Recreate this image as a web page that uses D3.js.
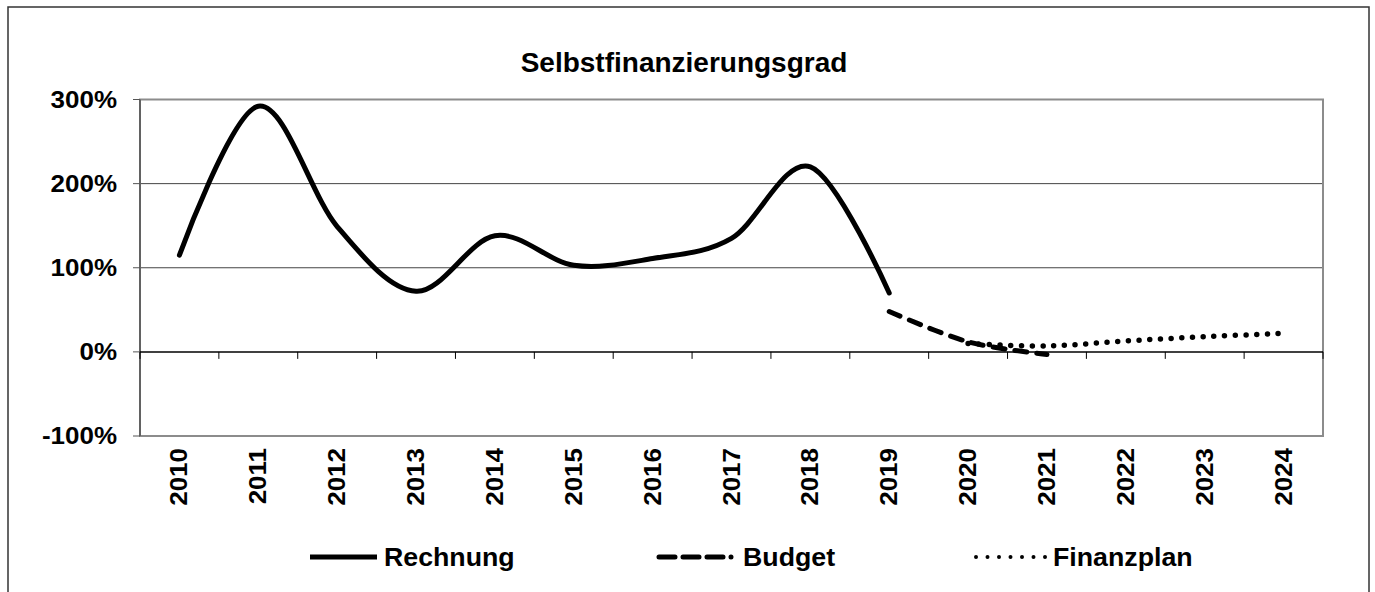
<!DOCTYPE html>
<html>
<head>
<meta charset="utf-8">
<script src="https://cdn.jsdelivr.net/npm/d3@7"></script>
<style>
  body { margin: 0; background: #fff; }
  text { font-family: "Liberation Sans", Arial, sans-serif; font-weight: bold; fill: #000; }
</style>
</head>
<body>
<div id="chart"></div>
<script>
var years = ["2010", "2011", "2012", "2013", "2014", "2015", "2016", "2017", "2018", "2019", "2020", "2021", "2022", "2023", "2024"];
var yTicks = [-1, 0, 1, 2, 3];

// values as fractions (1 = 100%)
var rechnungYears = ["2010", "2011", "2012", "2013", "2014", "2015", "2016", "2017", "2018", "2019"];
var rechnung = [1.15, 2.92, 1.49, 0.72, 1.38, 1.03, 1.11, 1.35, 2.20, 0.70];
var budgetYears = ["2019", "2020", "2021"];
var budget = [0.48, 0.12, -0.03];
var finanzplanYears = ["2020", "2021", "2022", "2023", "2024"];
var finanzplan = [0.10, 0.07, 0.13, 0.18, 0.22];

var W = 1375, H = 592;
var plot = { left: 140, right: 1323, top: 99.5, bottom: 436 };
var stretch = 1.13; // axis labels in the original are a bit wider than Arial

var svg = d3.select("#chart").append("svg")
  .attr("width", W)
  .attr("height", H);

// outer frame
svg.append("rect")
  .attr("x", 8).attr("y", 7)
  .attr("width", 1361).attr("height", 620)
  .attr("fill", "none")
  .attr("stroke", "#333")
  .attr("stroke-width", 1.5);

var x = d3.scaleBand()
  .domain(years)
  .range([plot.left, plot.right])
  .paddingInner(0).paddingOuter(0);

var y = d3.scaleLinear()
  .domain([-1, 3])
  .range([plot.bottom, plot.top]);

function cx(d) { return x(d) + x.bandwidth() / 2; }

// title
svg.append("text")
  .attr("text-anchor", "middle")
  .attr("font-size", 28)
  .attr("x", 684)
  .attr("y", 72)
  .text("Selbstfinanzierungsgrad");

// gridlines
svg.append("g").selectAll("line")
  .data(yTicks.filter(function(d) { return d > 0 && d < 3; }))
  .enter().append("line")
  .attr("x1", plot.left).attr("x2", plot.right)
  .attr("y1", function(d) { return y(d); })
  .attr("y2", function(d) { return y(d); })
  .attr("stroke", "#444")
  .attr("stroke-width", 1);

// plot border
svg.append("rect")
  .attr("x", plot.left).attr("y", plot.top)
  .attr("width", plot.right - plot.left)
  .attr("height", plot.bottom - plot.top)
  .attr("fill", "none")
  .attr("stroke", "#8c8c8c")
  .attr("stroke-width", 2);

// y axis
var pct = function(d) { return Math.round(d * 100) + "%"; };
var yAxis = svg.append("g");
yAxis.append("line")
  .attr("x1", plot.left).attr("x2", plot.left)
  .attr("y1", plot.top).attr("y2", plot.bottom)
  .attr("stroke", "#555").attr("stroke-width", 1.5);
yAxis.selectAll(".tick")
  .data(yTicks)
  .enter().append("line")
  .attr("x1", plot.left - 7).attr("x2", plot.left)
  .attr("y1", function(d) { return y(d); })
  .attr("y2", function(d) { return y(d); })
  .attr("stroke", "#555").attr("stroke-width", 1);
yAxis.selectAll("text")
  .data(yTicks)
  .enter().append("text")
  .attr("text-anchor", "end")
  .attr("font-size", 23)
  .attr("transform", function(d) {
    return "translate(117," + (y(d) + 8) + ") scale(" + stretch + ",1)";
  })
  .text(pct);

// x axis at 0
var xAxis = svg.append("g");
xAxis.append("line")
  .attr("x1", plot.left).attr("x2", plot.right)
  .attr("y1", y(0)).attr("y2", y(0))
  .attr("stroke", "#000").attr("stroke-width", 1.5);
xAxis.selectAll(".tick")
  .data(years.concat(["end"]))
  .enter().append("line")
  .attr("x1", function(d) { return d == "end" ? plot.right : x(d); })
  .attr("x2", function(d) { return d == "end" ? plot.right : x(d); })
  .attr("y1", y(0)).attr("y2", y(0) + 7)
  .attr("stroke", "#000").attr("stroke-width", 1);
xAxis.selectAll("text")
  .data(years)
  .enter().append("text")
  .attr("text-anchor", "end")
  .attr("font-size", 23)
  .attr("transform", function(d) {
    return "translate(" + (cx(d) + 8) + ",448) rotate(-90) scale(" + stretch + ",1)";
  })
  .text(function(d) { return d; });

// lines
var line = d3.line()
  .x(function(d) { return cx(d[0]); })
  .y(function(d) { return y(d[1]); })
  .curve(d3.curveCardinal.tension(0));

function pairs(ys, vs) { return ys.map(function(k, i) { return [k, vs[i]]; }); }

svg.append("path")
  .datum(pairs(finanzplanYears, finanzplan))
  .attr("d", line)
  .attr("fill", "none")
  .attr("stroke", "#000")
  .attr("stroke-width", 5.5)
  .attr("stroke-linecap", "round")
  .attr("stroke-dasharray", "0,10.7");

svg.append("path")
  .datum(pairs(budgetYears, budget))
  .attr("d", line)
  .attr("fill", "none")
  .attr("stroke", "#000")
  .attr("stroke-width", 5)
  .attr("stroke-linecap", "round")
  .attr("stroke-dasharray", "12,10");

svg.append("path")
  .datum(pairs(rechnungYears, rechnung))
  .attr("d", line)
  .attr("fill", "none")
  .attr("stroke", "#000")
  .attr("stroke-width", 5)
  .attr("stroke-linecap", "round")
  .attr("stroke-linejoin", "round");

// legend
var legend = [
  { name: "Rechnung", x1: 310, x2: 377, dash: null, w: 5 },
  { name: "Budget", x1: 659, x2: 736, dash: "16,8,16,8,16,8,0,8", w: 5 },
  { name: "Finanzplan", x1: 976, x2: 1046, dash: "0,11.5", w: 4 }
];
var lg = svg.append("g").selectAll("g")
  .data(legend)
  .enter().append("g");
lg.append("line")
  .attr("x1", function(d) { return d.x1; })
  .attr("x2", function(d) { return d.x2; })
  .attr("y1", 557).attr("y2", 557)
  .attr("stroke", "#000")
  .attr("stroke-width", function(d) { return d.w; })
  .attr("stroke-linecap", function(d) { return d.dash ? "round" : "butt"; })
  .attr("stroke-dasharray", function(d) { return d.dash; });
lg.append("text")
  .attr("font-size", 25)
  .attr("transform", function(d) {
    return "translate(" + (d.x2 + 7) + ",566) scale(1.07,1)";
  })
  .text(function(d) { return d.name; });
</script>
</body>
</html>
